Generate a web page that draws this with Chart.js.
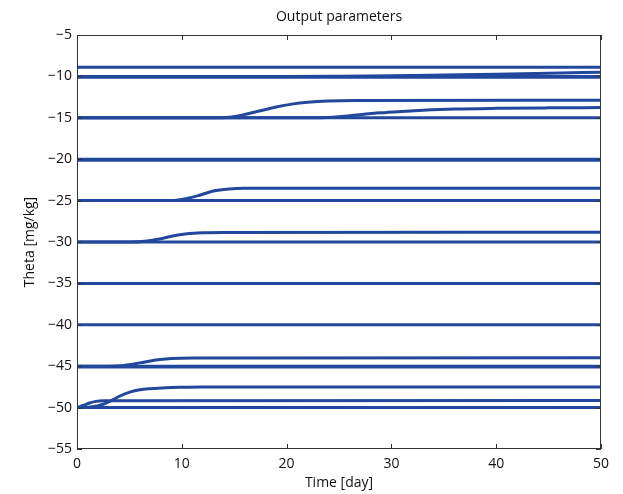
<!DOCTYPE html>
<html>
<head>
<meta charset="utf-8">
<script src="https://cdn.jsdelivr.net/npm/chart.js@4"></script>
<style>
  html, body { margin: 0; padding: 0; background: #fff; }
  canvas { display: block; }
</style>
</head>
<body>
<canvas id="chart" width="623" height="494"></canvas>
<script>
const titleText = "Output parameters";
const xTitle = "Time [day]";
const yTitle = "Theta [mg/kg]";
const xRange = [0, 50];
const yRange = [-55, -5];

// lines that stay flat
const tFlat = [0, 50];
const flat89 = [-8.9, -8.9];
const flat10a = [-10, -10];
const flat10b = [-10.1, -10.1];
const flat15 = [-15, -15];
const flat20a = [-20, -20];
const flat20b = [-20.12, -20.12];
const flat25 = [-25, -25];
const flat30 = [-30, -30];
const flat35 = [-35, -35];
const flat40 = [-40, -40];
const flat45a = [-45, -45];
const flat45b = [-45.1, -45.1];
const flat50 = [-50, -50];

// lines that move
const tDrift10 = [0, 20, 25, 30, 35, 40, 45, 50];
const drift10 = [-10, -10, -9.97, -9.92, -9.83, -9.73, -9.62, -9.5];

const tRise15a = [0, 13, 14.5, 16, 17.5, 19, 20.5, 22, 24, 27, 50];
const rise15a = [-15, -15, -14.93, -14.6, -14.15, -13.7, -13.35, -13.12, -12.97, -12.92, -12.88];

const tRise15b = [0, 23, 25, 27, 29, 31, 33, 36, 40, 45, 50];
const rise15b = [-15, -15, -14.88, -14.62, -14.4, -14.24, -14.1, -13.95, -13.86, -13.8, -13.76];

const tRise25 = [0, 8, 9.5, 10.5, 11.7, 13, 14.5, 16, 50];
const rise25 = [-25, -25, -24.95, -24.75, -24.35, -23.85, -23.6, -23.52, -23.5];

const tRise30 = [0, 5, 6.5, 8, 9, 10.5, 12, 14, 50];
const rise30 = [-30, -30, -29.9, -29.6, -29.3, -29.0, -28.88, -28.84, -28.82];

const tRise45 = [0, 3, 4.5, 6, 7.5, 9, 11, 50];
const rise45 = [-45, -45, -44.9, -44.6, -44.25, -44.07, -44.0, -43.98];

const tRise50a = [0, 0.6, 1.2, 1.8, 2.5, 50];
const rise50a = [-50, -49.75, -49.45, -49.25, -49.18, -49.15];

const tRise50b = [0, 1.5, 2.5, 3.2, 4.1, 5.1, 6, 7, 8.5, 10, 12, 50];
const rise50b = [-50, -49.9, -49.6, -49.2, -48.6, -48.1, -47.85, -47.72, -47.6, -47.55, -47.52, -47.5];

const series = [
  [tFlat, flat89], [tFlat, flat10a], [tFlat, flat10b], [tDrift10, drift10],
  [tFlat, flat15], [tRise15a, rise15a], [tRise15b, rise15b],
  [tFlat, flat20a], [tFlat, flat20b],
  [tFlat, flat25], [tRise25, rise25],
  [tFlat, flat30], [tRise30, rise30],
  [tFlat, flat35], [tFlat, flat40],
  [tFlat, flat45a], [tFlat, flat45b], [tRise45, rise45],
  [tFlat, flat50], [tRise50a, rise50a], [tRise50b, rise50b],
];

const lineColor = "#21489c";
const axisColor = "#333333";
const textColor = "#111111";
const font = { family: "'Open Sans', 'Noto Sans', sans-serif", size: 14 };

const minus = (v) => String(v).replace("-", "\u2212");

const frame = {
  id: "frame",
  afterDraw(chart) {
    const { ctx, chartArea: a, scales: { x, y } } = chart;
    ctx.save();
    ctx.strokeStyle = axisColor;
    ctx.lineWidth = 1;
    ctx.strokeRect(a.left + 0.5, a.top + 0.5, a.right - a.left - 1, a.bottom - a.top - 1);
    ctx.beginPath();
    x.ticks.forEach((tk) => {
      const px = Math.round(x.getPixelForValue(tk.value)) + 0.5;
      ctx.moveTo(px, a.bottom);
      ctx.lineTo(px, a.bottom - 5);
      ctx.moveTo(px, a.top);
      ctx.lineTo(px, a.top + 5);
    });
    y.ticks.forEach((tk) => {
      const py = Math.round(y.getPixelForValue(tk.value)) + 0.5;
      ctx.moveTo(a.left, py);
      ctx.lineTo(a.left + 5, py);
      ctx.moveTo(a.right, py);
      ctx.lineTo(a.right - 5, py);
    });
    ctx.stroke();
    ctx.fillStyle = textColor;
    ctx.font = `${font.size}px ${font.family}`;
    ctx.textAlign = "center";
    ctx.textBaseline = "middle";
    ctx.fillText(titleText, (a.left + a.right) / 2, 17);
    ctx.restore();
  },
};

window.onload = () => {
  new Chart(document.getElementById("chart").getContext("2d"), {
    type: "line",
    data: {
      datasets: series.map(([t, v]) => ({
        data: t.map((tx, i) => ({ x: tx, y: v[i] })),
        borderColor: lineColor,
        borderWidth: 3,
        pointRadius: 0,
        fill: false,
        cubicInterpolationMode: "monotone",
      })),
    },
    options: {
      responsive: false,
      animation: false,
      layout: { padding: { top: 35, right: 22, left: 0, bottom: 0 } },
      plugins: {
        legend: { display: false },
        tooltip: { enabled: false },
        title: { display: false },
      },
      scales: {
        x: {
          type: "linear",
          min: xRange[0],
          max: xRange[1],
          grid: { display: false, drawTicks: false },
          border: { display: false },
          ticks: { stepSize: 10, padding: 7, font, color: textColor, maxRotation: 0 },
          title: { display: true, text: xTitle, font, color: textColor, padding: { top: 0, bottom: 3 } },
          afterFit: (s) => { s.height = 45; },
        },
        y: {
          min: yRange[0],
          max: yRange[1],
          grid: { display: false, drawTicks: false },
          border: { display: false },
          ticks: { stepSize: 5, padding: 5, font, color: textColor, callback: minus },
          title: { display: true, text: yTitle, font, color: textColor, padding: { top: 22, bottom: 0 } },
          afterFit: (s) => { s.width = 77; },
        },
      },
    },
    plugins: [frame],
  });
};
</script>
</body>
</html>
